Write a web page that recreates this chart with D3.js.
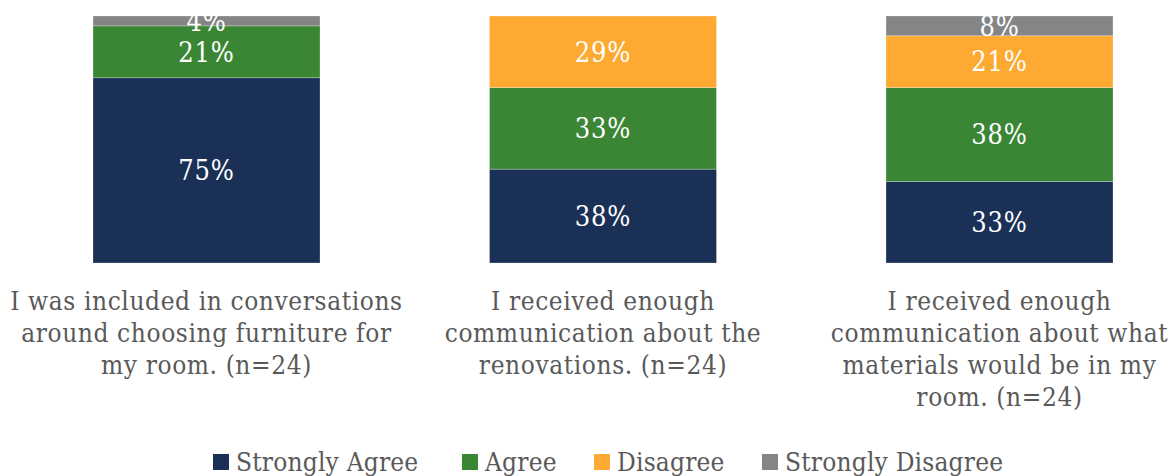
<!DOCTYPE html>
<html>
<head>
<meta charset="utf-8">
<script src="https://cdn.jsdelivr.net/npm/d3@7"></script>
<style>
  html, body { margin: 0; padding: 0; background: #fff; }
  svg { display: block; }
  text { font-family: "DejaVu Serif", serif; font-stretch: condensed; }
</style>
</head>
<body>
<svg id="chart" width="1176" height="476"></svg>
<script>
// Survey statements (one stacked bar each), wrapped into display lines
const categories = ["furniture", "renovations", "materials"];
const categoryLines = [
  ["I was included in conversations", "around choosing furniture for", "my room. (n=24)"],
  ["I received enough", "communication about the", "renovations. (n=24)"],
  ["I received enough", "communication about what", "materials would be in my", "room. (n=24)"]
];

// Response levels, bottom to top of each stack
const seriesNames = ["Strongly Agree", "Agree", "Disagree", "Strongly Disagree"];
const seriesColors = ["#1a3057", "#3b8635", "#fda932", "#858585"];

// Percent of respondents per statement
const stronglyAgree    = [75, 38, 33];
const agree            = [21, 33, 38];
const disagree         = [0, 29, 21];
const stronglyDisagree = [4, 0, 8];

const rows = categories.map((c, i) => ({
  category: c,
  "Strongly Agree": stronglyAgree[i],
  "Agree": agree[i],
  "Disagree": disagree[i],
  "Strongly Disagree": stronglyDisagree[i]
}));

const svg = d3.select("#chart");
const textGray = "#595959";

const x = d3.scaleBand()
  .domain(categories)
  .range([93, 1113])
  .paddingInner(0.4275)
  .paddingOuter(0);

const y = d3.scaleLinear().domain([0, 100]).range([263, 16]);

const color = d3.scaleOrdinal().domain(seriesNames).range(seriesColors);

const stacked = d3.stack().keys(seriesNames)(rows);

const layers = svg.append("g").selectAll("g")
  .data(stacked)
  .join("g")
  .attr("fill", d => color(d.key));

layers.selectAll("rect")
  .data(d => d.map(p => ({ key: d.key, p })))
  .join("rect")
  .attr("x", d => x(d.p.data.category))
  .attr("width", x.bandwidth())
  .attr("y", d => y(d.p[1]))
  .attr("height", d => y(d.p[0]) - y(d.p[1]))
  .attr("stroke", "#ffffff")
  .attr("stroke-opacity", 0.35)
  .attr("stroke-width", 0.75);

// Segment value labels
layers.selectAll("text")
  .data(d => d.map(p => ({ key: d.key, p })).filter(d => d.p[1] - d.p[0] > 0))
  .join("text")
  .attr("x", d => x(d.p.data.category) + x.bandwidth() / 2)
  .attr("y", d => (y(d.p[0]) + y(d.p[1])) / 2)
  .attr("dy", "0.36em")
  .attr("text-anchor", "middle")
  .attr("fill", "#ffffff")
  .attr("font-size", 27)
  .attr("letter-spacing", 0.8)
  .text(d => (d.p[1] - d.p[0]) + "%");

// Category labels under each bar
const catG = svg.append("g").selectAll("text")
  .data(categories)
  .join("text")
  .attr("x", d => x(d) + x.bandwidth() / 2)
  .attr("y", 310)
  .attr("text-anchor", "middle")
  .attr("fill", textGray)
  .attr("font-size", 26)
  .attr("letter-spacing", 0.6);

catG.selectAll("tspan")
  .data((d, i) => categoryLines[i])
  .join("tspan")
  .attr("x", function () { return d3.select(this.parentNode).attr("x"); })
  .attr("dy", (d, i) => i === 0 ? 0 : 32)
  .text(d => d);

// Legend
const legendX = [213, 462, 594, 762];
const legend = svg.append("g").selectAll("g")
  .data(seriesNames)
  .join("g")
  .attr("transform", (d, i) => `translate(${legendX[i]},0)`);

legend.append("rect")
  .attr("x", 0)
  .attr("y", 454)
  .attr("width", 16)
  .attr("height", 16)
  .attr("fill", d => color(d));

legend.append("text")
  .attr("x", 23)
  .attr("y", 471)
  .attr("fill", textGray)
  .attr("font-size", 26)
  .attr("letter-spacing", 0.2)
  .text(d => d);
</script>
</body>
</html>
